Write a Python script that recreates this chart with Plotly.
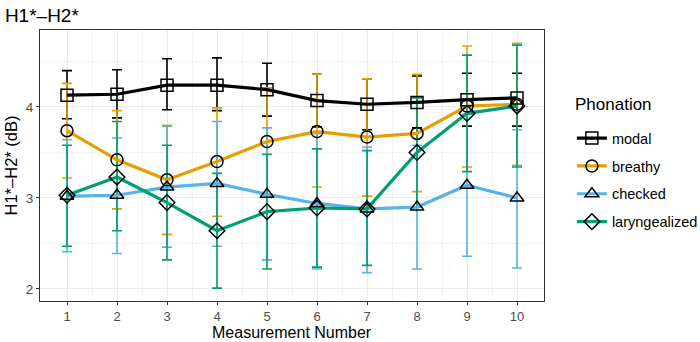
import plotly.graph_objects as go

measurement = [1, 2, 3, 4, 5, 6, 7, 8, 9, 10]

modal = [4.13, 4.14, 4.24, 4.24, 4.19, 4.07, 4.03, 4.05, 4.08, 4.10]
modal_hi = [4.40, 4.41, 4.53, 4.54, 4.48, 4.36, 4.31, 4.34, 4.37, 4.37]
modal_lo = [3.87, 3.88, 3.97, 3.96, 3.90, 3.78, 3.75, 3.77, 3.79, 3.79]

breathy = [3.74, 3.42, 3.20, 3.40, 3.62, 3.73, 3.67, 3.71, 4.01, 4.03]
breathy_hi = [4.26, 3.96, 3.80, 3.99, 4.21, 4.36, 4.31, 4.36, 4.67, 4.70]
breathy_lo = [3.22, 2.88, 2.60, 2.80, 3.03, 3.12, 3.02, 3.07, 3.34, 3.36]

checked = [3.02, 3.03, 3.12, 3.16, 3.04, 2.94, 2.88, 2.90, 3.14, 3.00]
checked_hi = [3.64, 3.66, 3.79, 3.84, 3.77, 3.71, 3.56, 3.58, 3.92, 3.75]
checked_lo = [2.41, 2.39, 2.46, 2.47, 2.32, 2.22, 2.18, 2.22, 2.36, 2.23]

laryngealized = [3.03, 3.23, 2.95, 2.64, 2.85, 2.89, 2.88, 3.50, 3.93, 4.01]
laryngealized_hi = [3.58, 3.84, 3.58, 3.27, 3.48, 3.54, 3.52, 4.10, 4.57, 4.68]
laryngealized_lo = [2.47, 2.64, 2.32, 2.01, 2.22, 2.24, 2.26, 2.90, 3.29, 3.34]

series = [
    ("modal", modal, modal_hi, modal_lo, "#000000", "square-open"),
    ("breathy", breathy, breathy_hi, breathy_lo, "#E69F00", "circle-open"),
    ("checked", checked, checked_hi, checked_lo, "#56B4E9", "triangle-up-open"),
    ("laryngealized", laryngealized, laryngealized_hi, laryngealized_lo, "#009E73", "diamond-open"),
]

fig = go.Figure()

# error bars first
for name, y, hi, lo, col, sym in series:
    fig.add_trace(go.Scatter(
        x=measurement, y=y, mode="markers", marker=dict(size=0.1, color=col),
        error_y=dict(type="data", symmetric=False,
                     array=[h - v for h, v in zip(hi, y)],
                     arrayminus=[v - l for l, v in zip(lo, y)],
                     color=col, thickness=1.6, width=5),
        showlegend=False, hoverinfo="skip"))

# lines
for name, y, hi, lo, col, sym in series:
    fig.add_trace(go.Scatter(x=measurement, y=y, mode="lines",
                             line=dict(color=col, width=3.2), showlegend=False))

# points
for name, y, hi, lo, col, sym in series:
    fig.add_trace(go.Scatter(x=measurement, y=y, mode="markers",
                             marker=dict(symbol=sym, size=12, color="black",
                                         line=dict(color="black", width=1.5)),
                             showlegend=False))

# legend keys
for name, y, hi, lo, col, sym in series:
    fig.add_trace(go.Scatter(x=[None], y=[None], mode="lines+markers", name=name,
                             legendgroup=name,
                             line=dict(color=col, width=3.2),
                             marker=dict(symbol=sym, size=12, color="black",
                                         line=dict(color="black", width=1.5))))

fig.update_layout(
    width=700, height=342,
    template="none",
    paper_bgcolor="white", plot_bgcolor="white",
    font=dict(family="Liberation Sans, Arial, sans-serif", color="black"),
    title=dict(text="H1*\u2013H2*", x=0.007, xanchor="left", y=0.956, yanchor="middle",
               font=dict(size=19, color="black")),
    margin=dict(l=40, r=156, t=30, b=41, autoexpand=False),
    legend=dict(xref="container", x=0.817, xanchor="left", y=0.66, yanchor="top",
                font=dict(size=14.5), bgcolor="rgba(0,0,0,0)",
                tracegroupgap=6, itemwidth=30),
    annotations=[
        dict(text="Measurement Number", xref="paper", yref="paper",
             x=0.5, y=-0.116, xanchor="center", yanchor="middle",
             showarrow=False, font=dict(size=16, color="black")),
        dict(text="Phonation", xref="paper", yref="paper",
             x=1.0575, y=0.724, xanchor="left", yanchor="middle",
             showarrow=False, font=dict(size=17, color="black")),
    ],
)

fig.update_xaxes(
    range=[0.46, 10.54], tickmode="array", tickvals=measurement,
    ticktext=[str(m) for m in measurement],
    showgrid=True, gridcolor="#ebebeb", gridwidth=1.2,
    minor=dict(tickmode="array", tickvals=[m + 0.5 for m in measurement[:-1]],
               showgrid=True, gridcolor="#f2f2f2", gridwidth=0.6, ticks=""),
    ticks="outside", ticklen=3, tickcolor="#333333", tickwidth=1,
    tickfont=dict(size=13, color="#4d4d4d"),
    showline=True, linecolor="#333333", linewidth=1.2, mirror=True, zeroline=False,
)
fig.update_yaxes(
    range=[1.868, 4.846], tickmode="array", tickvals=[2, 3, 4], ticktext=["2", "3", "4"],
    showgrid=True, gridcolor="#ebebeb", gridwidth=1.2,
    minor=dict(tickmode="array", tickvals=[2.5, 3.5, 4.5],
               showgrid=True, gridcolor="#f2f2f2", gridwidth=0.6, ticks=""),
    ticks="outside", ticklen=3, tickcolor="#333333", tickwidth=1,
    tickfont=dict(size=13.5, color="#4d4d4d"),
    title=dict(text="H1*\u2013H2* (dB)", font=dict(size=16.5), standoff=3),
    showline=True, linecolor="#333333", linewidth=1.2, mirror=True, zeroline=False,
)

# drop the browser's default 8px body margin so the figure fills the window
fig.write_html("out.html", config={"displayModeBar": False},
               post_script="document.body.style.margin='0';")
